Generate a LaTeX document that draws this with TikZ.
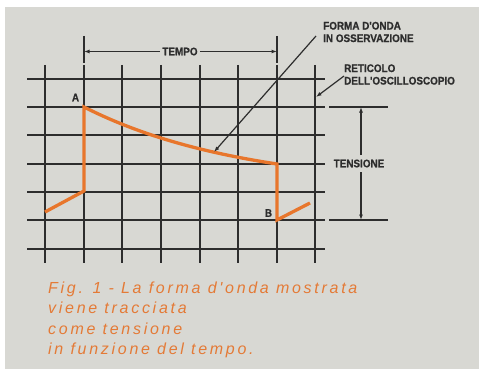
\documentclass[tikz,border=0pt]{standalone}
\usepackage{fontspec}
\setmainfont{Liberation Sans}
\newfontfamily\labf{Liberation Sans Bold}[FakeStretch=0.9,FakeBold=0.8]
\newfontfamily\capf{Liberation Sans Italic}[LetterSpace=17]
\usetikzlibrary{arrows.meta}
\definecolor{bgc}{RGB}{216,216,211}
\definecolor{gridc}{RGB}{45,45,45}
\definecolor{wave}{RGB}{232,118,44}
\definecolor{capc}{RGB}{228,122,54}
\tikzset{
  gridline/.style={gridc, line width=2pt},
  dimline/.style={gridc, line width=1.2pt},
  dimarrow/.style={gridc, line width=1.2pt, -{Latex[length=5.5pt,width=4pt]}},
  lab/.style={font=\labf\fontsize{11}{12.5}\selectfont, text=gridc, inner sep=0pt, align=left},
  caplab/.style={font=\capf\fontsize{16}{18}\selectfont, text=capc, inner sep=0pt, anchor=base west},
  wavel/.style={wave, line width=3.3pt, line join=miter, line cap=butt}
}
\begin{document}
\begin{tikzpicture}[x=1pt,y=-1pt]
\useasboundingbox (0,0) rectangle (479,369);
\fill[white] (0,0) rectangle (479,369);
\fill[bgc] (5,7) rectangle (479,369);
% grid
\foreach \gx in {45,84,122,161,200,238,277,315} {
  \draw[gridline] (\gx,65) -- (\gx,263);
}
\foreach \gy in {79,107,135,164,192,220,249} {
  \draw[gridline] (27,\gy) -- (325,\gy);
}
% extra lines for TENSIONE
\draw[gridline] (329,107) -- (388,107);
\draw[gridline] (329,220) -- (388,220);
% TEMPO extension lines
\draw[dimline] (84,36) -- (84,63);
\draw[dimline] (277,36) -- (277,63);
\coordinate (t1) at (84,51.5);
\coordinate (t2) at (277,51.5);
\node[lab] (tempo) at (180,51.5) {TEMPO};
\draw[dimarrow] (tempo.west) ++(-2,0) -- (t1);
\draw[dimarrow] (tempo.east) ++(2,0) -- (t2);
% TENSIONE
\node[lab] (tens) at (359,163.5) {TENSIONE};
\coordinate (v1) at (361,107);
\coordinate (v2) at (361,220);
\draw[dimarrow] (361,155) -- (v1);
\draw[dimarrow] (361,172) -- (v2);
% waveform
\coordinate (w0) at (45,212);
\coordinate (w1) at (84,191);
\coordinate (A) at (84,107);
\coordinate (Bt) at (277,164);
\coordinate (B) at (277,220);
\coordinate (w5) at (310,203);
\draw[wavel] (w0) -- (w1) -- (A)
  -- plot[domain=0:1, samples=40] ({84+193*\x},{107+57*(1-exp(-1.2*\x))/0.69881})
  -- (B) -- (w5);
\node[lab] (la) at (75.5,97.5) {A};
\node[lab] (lb) at (268.5,213) {B};
% labels
\node[lab, anchor=west] (forma) at (323,32) {FORMA D'ONDA\\IN OSSERVAZIONE};
\node[lab, anchor=west] (retic) at (344,74.5) {RETICOLO\\DELL'OSCILLOSCOPIO};
\coordinate (p0) at (316,36);
\coordinate (p1) at (214,152);
\draw[dimarrow] (p0) -- (p1);
\coordinate (r0) at (344,76);
\coordinate (r1) at (316,97);
\draw[dimarrow] (r0) -- (r1);
% caption
\node[caplab] (c1) at (48,293) {Fig. 1 - La forma d'onda mostrata};
\node[caplab] (c2) at (48,313.5) {viene tracciata};
\node[caplab] (c3) at (48,334) {come tensione};
\node[caplab] (c4) at (48,354.5) {in funzione del tempo.};
\end{tikzpicture}
\end{document}
